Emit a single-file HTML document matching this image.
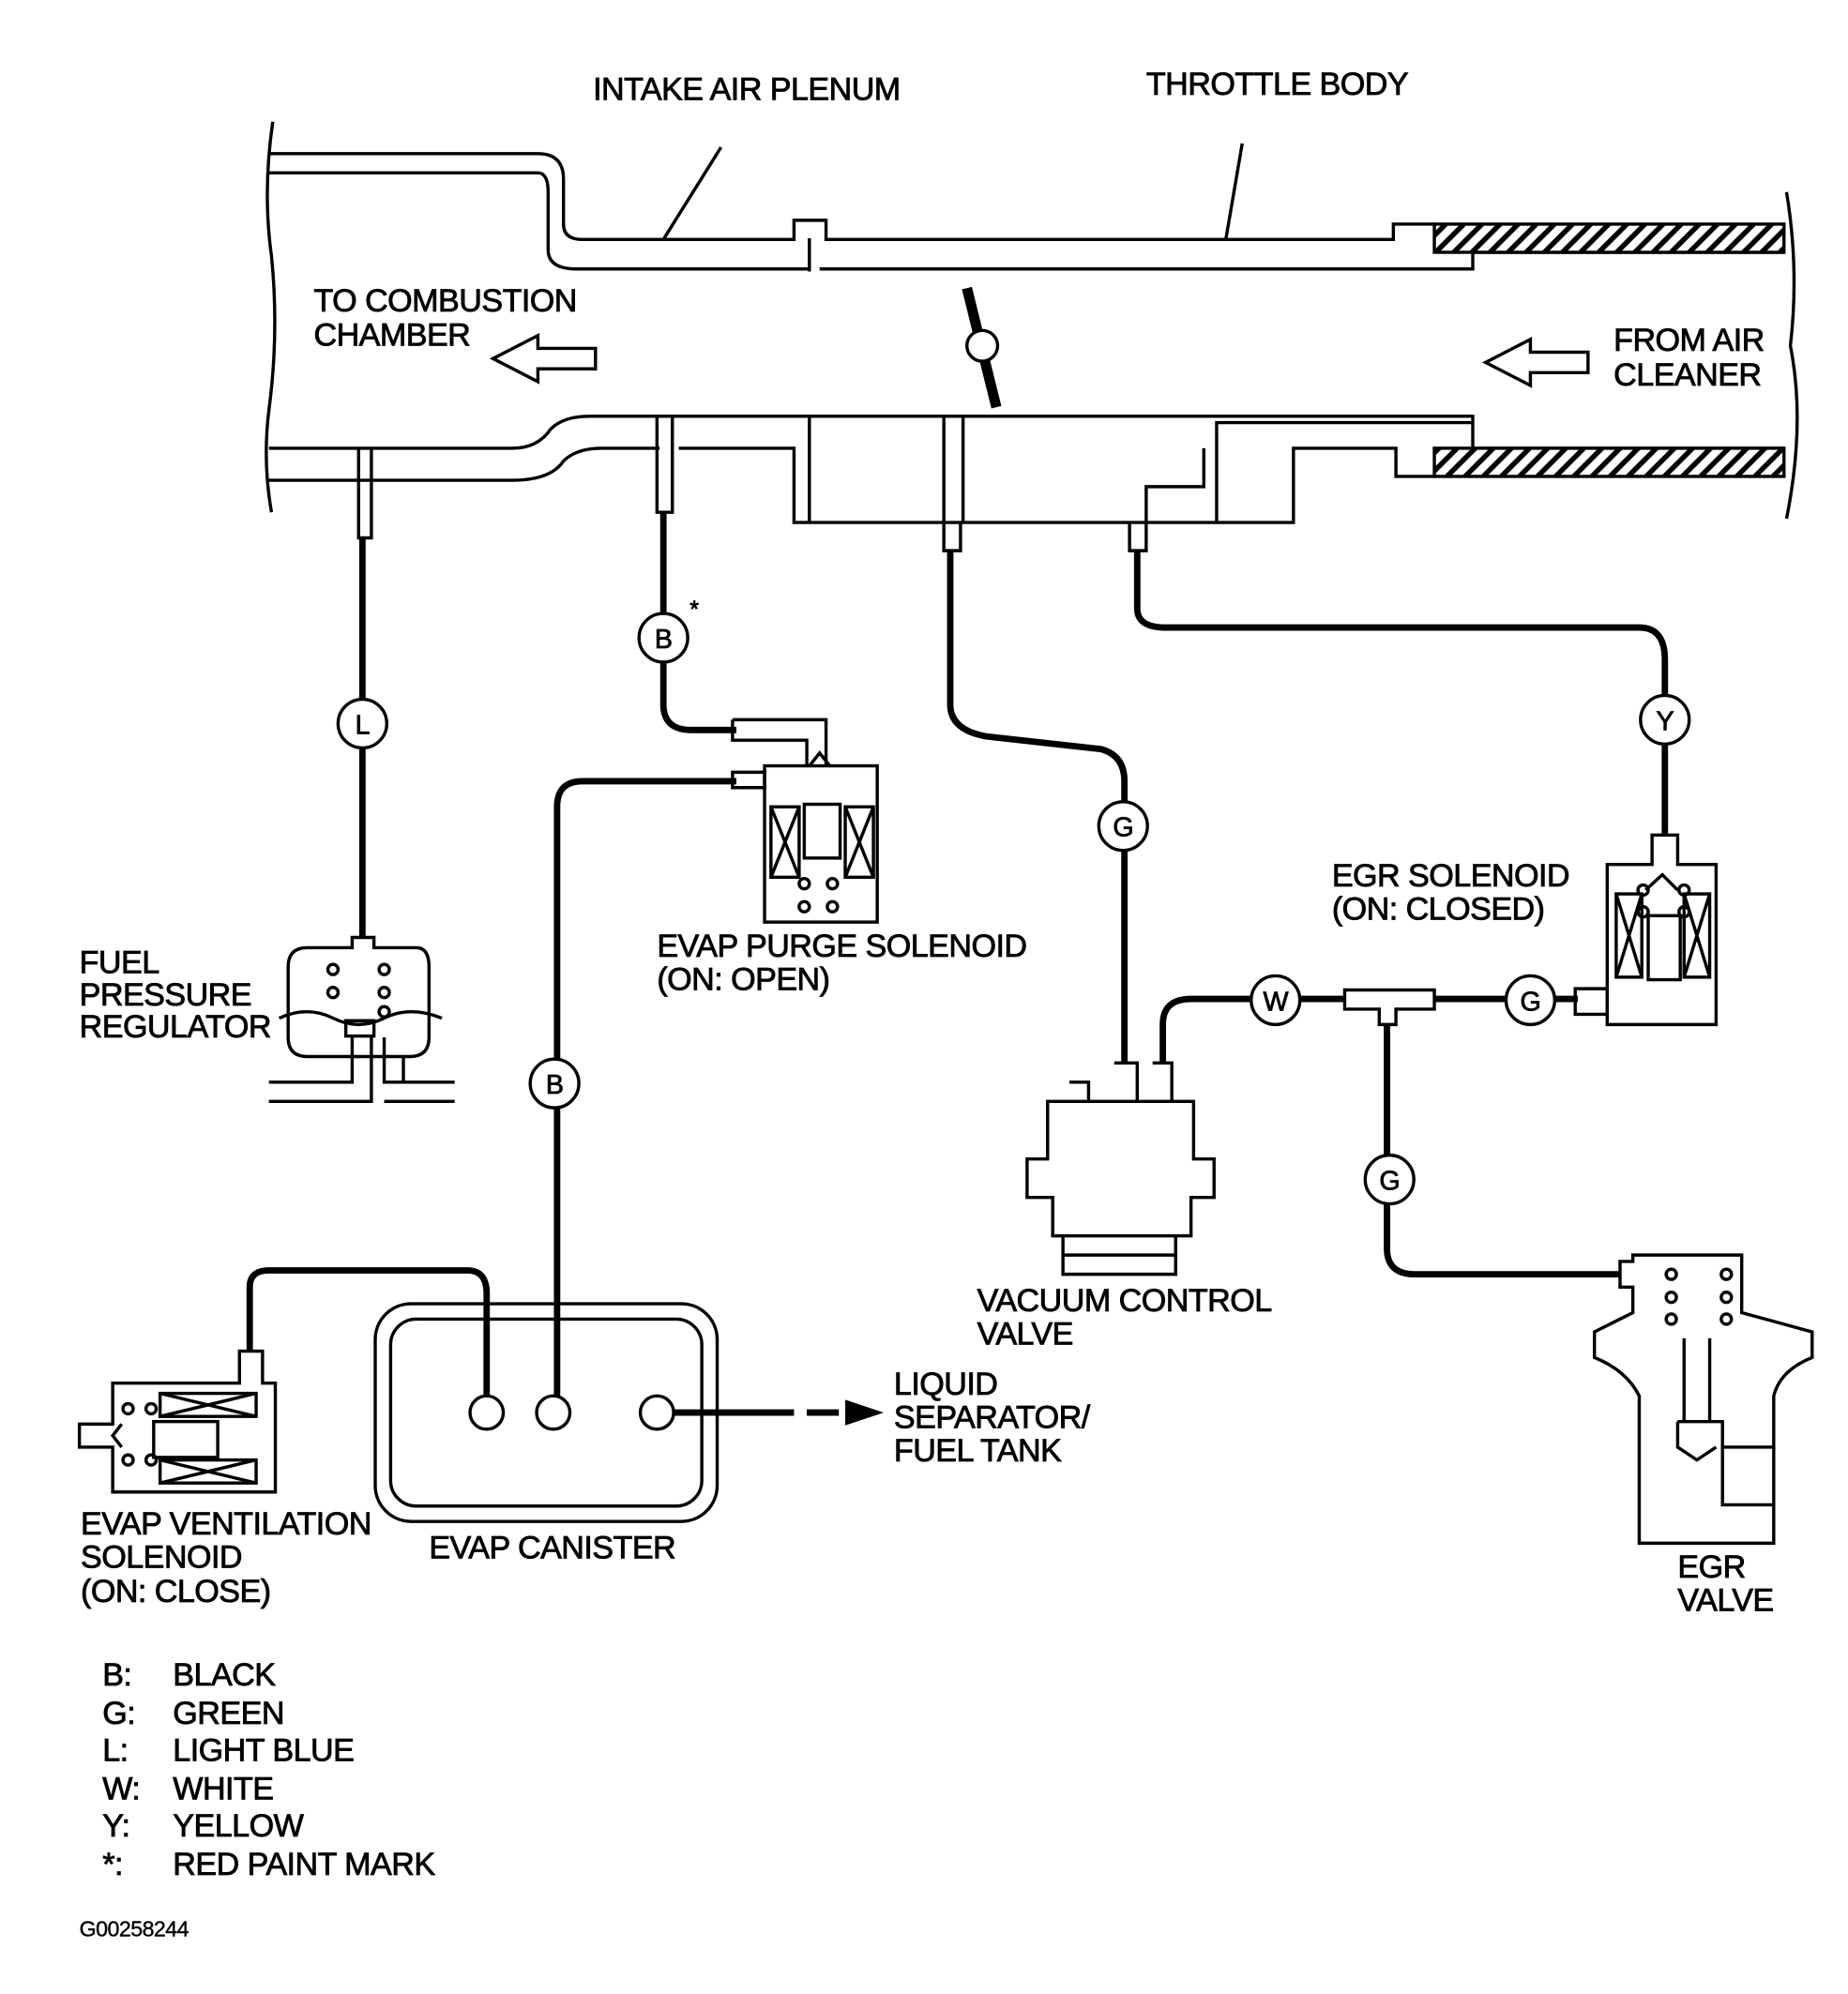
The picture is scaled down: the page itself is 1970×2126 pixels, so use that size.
<!DOCTYPE html>
<html><head><meta charset="utf-8"><style>
html,body{margin:0;padding:0;background:#fff}
svg{display:block}
text{font-family:"Liberation Sans",Arial,sans-serif;font-size:25px;fill:#000;stroke:#000;stroke-width:0.6;letter-spacing:-0.4px}
.c text{font-size:21px}
</style></head><body>
<svg width="1970" height="2126" viewBox="0 0 1443 1557" preserveAspectRatio="none">
<defs>
<pattern id="h" width="10" height="10" patternUnits="userSpaceOnUse" patternTransform="rotate(45)">
<rect width="10" height="10" fill="#fff"/><rect width="4" height="10" fill="#000"/></pattern>
</defs>
<g fill="none" stroke="#000" stroke-width="2.5">
<path d="M213,95 Q205,150 212,200 Q218,260 210,320 Q205,360 212,400"/>
<path d="M1395,150 Q1405,210 1398,270 Q1410,330 1395,405"/>
<path d="M210,120 H420 Q440,120 440,140 V175 Q440,187 455,187 H620 V172 H645 V187 H1088 V175 H1120"/>
<path d="M210,135 H420 Q428,135 428,150 V195 Q428,210 450,210 H632 M640,210 H1150 V197 H1393"/>
<line x1="632" y1="186" x2="632" y2="212"/>
<rect x="1120" y="175" width="273" height="22" fill="url(#h)"/>
<path d="M210,350 H400 Q420,350 430,335 Q440,325 460,325 H1150 V350 H1393"/>
<path d="M210,375 H400 Q430,375 440,360 Q450,350 470,350 H515 M530,350 H620 V408 H1010 V350 H1090 V372 H1120"/>
<rect x="1120" y="350" width="273" height="22" fill="url(#h)"/>
<path d="M632,325 V408 M752,325 V408 M950,408 V330 H1150"/>
<path d="M280,350 V420 H290 V350"/>
<path d="M513,325 V400 H525 V325"/>
<path d="M737,325 V430 H750 V408"/>
<path d="M882,408 V430 H895 V380 H940 V350"/>
<line x1="518" y1="187" x2="563" y2="115"/>
<line x1="957" y1="188" x2="970" y2="112"/>
<path d="M385,280 L420,262 V272 H465 V288 H420 V298 Z"/>
<path d="M1160,283 L1195,265 V275 H1240 V291 H1195 V301 Z"/>
<path d="M755,225 L778,318" stroke-width="8"/>
<circle cx="767" cy="270" r="12" fill="#fff"/>
</g>
<g fill="none" stroke="#000" stroke-width="5">
<path d="M283,420 V732"/>
<path d="M518,400 V550 Q518,570 540,570 H575"/>
<path d="M575,610 H455 Q435,610 435,630 V1090"/>
<path d="M742,430 V550 Q742,570 770,575 L860,585 Q878,590 878,610 V830"/>
<path d="M888,430 V475 Q888,490 910,490 H1280 Q1300,490 1300,515 V652"/>
<path d="M908,830 V800 Q908,780 930,780 H1050"/>
<path d="M1120,780 H1232"/>
<path d="M1083,790 V975 Q1083,995 1105,995 H1265"/>
<path d="M195,1055 V1005 Q195,992 210,992 H365 Q380,992 380,1010 V1090"/>
<path d="M525,1103 H620"/>
</g>
<path d="M630,1103 H655" stroke="#000" stroke-width="5"/>
<path d="M660,1093 L690,1103 L660,1113 Z"/>
<g stroke="#000" stroke-width="2.5" fill="#fff">
<circle cx="283" cy="565" r="19"/><circle cx="518" cy="498" r="19"/><circle cx="433" cy="846" r="19"/>
<circle cx="877" cy="645" r="19"/><circle cx="1300" cy="562" r="19"/><circle cx="996" cy="781" r="19"/>
<circle cx="1195" cy="781" r="19"/><circle cx="1085" cy="921" r="19"/>
</g>
<g class="c" text-anchor="middle">
<text x="283" y="573">L</text><text x="518" y="506">B</text><text x="433" y="854">B</text>
<text x="877" y="653">G</text><text x="1300" y="570">Y</text><text x="996" y="789">W</text>
<text x="1195" y="789">G</text><text x="1085" y="929">G</text>
<text x="542" y="482" style="font-size:18px">*</text>
</g>
<g fill="none" stroke="#000" stroke-width="2.5">
<path d="M1050,773 H1120 V788 H1090 V800 H1077 V788 H1050 Z" fill="#fff"/>
<path d="M572,562 H645 V598 M572,562 V578 H630 V598"/>
<rect x="597" y="598" width="88" height="122"/>
<path d="M572,603 H597 V615 H572 Z"/>
<rect x="602" y="630" width="22" height="55"/><path d="M602,630 L624,685 M624,630 L602,685"/>
<rect x="660" y="630" width="22" height="55"/><path d="M660,630 L682,685 M682,630 L660,685"/>
<rect x="628" y="628" width="28" height="42"/>
<circle cx="628" cy="690" r="4"/><circle cx="650" cy="690" r="4"/><circle cx="628" cy="708" r="4"/><circle cx="650" cy="708" r="4"/>
<path d="M632,598 L640,588 L648,598"/>
<path d="M275,732 H292 V740 H325 Q335,740 335,755 V810 Q335,825 320,825 H240 Q225,825 225,810 V755 Q225,740 240,740 H275 Z"/>
<path d="M218,795 Q240,785 260,795 Q280,805 300,795 Q320,785 345,795"/>
<circle cx="260" cy="757" r="4"/><circle cx="260" cy="775" r="4"/><circle cx="300" cy="757" r="4"/><circle cx="300" cy="775" r="4"/><circle cx="300" cy="790" r="4"/>
<rect x="270" y="797" width="22" height="12"/>
<path d="M210,845 H275 V810 M210,860 H290 V810 M300,810 V845 H355 M315,825 V845 M300,860 H355"/>
<path d="M1290,652 H1310 V675 H1340 V800 H1255 V675 H1290 Z"/>
<path d="M1230,772 H1255 V792 H1230 Z"/>
<rect x="1262" y="698" width="20" height="65"/><path d="M1262,698 L1282,763 M1282,698 L1262,763"/>
<rect x="1315" y="698" width="20" height="65"/><path d="M1315,698 L1335,763 M1335,698 L1315,763"/>
<rect x="1287" y="715" width="25" height="50"/>
<path d="M1285,695 L1298,683 L1310,695"/>
<circle cx="1283" cy="695" r="4"/><circle cx="1315" cy="695" r="4"/><circle cx="1283" cy="712" r="4"/><circle cx="1315" cy="712" r="4"/>
<path d="M870,830 H888 V860 M900,830 H915 V860"/>
<path d="M835,845 H850 V860"/>
<path d="M818,860 H932 V905 H948 V935 H930 V965 H822 V935 H802 V905 H818 Z"/>
<path d="M830,965 V980 H918 V965 M830,980 V995 H918 V980"/>
<path d="M1265,985 H1275 V980 H1360 V1025 L1415,1040 V1060 Q1390,1070 1385,1090 V1205 H1280 V1090 Q1270,1070 1245,1060 V1040 L1275,1025 V1005 H1265 Z"/>
<circle cx="1305" cy="995" r="4"/><circle cx="1305" cy="1013" r="4"/><circle cx="1305" cy="1030" r="4"/>
<circle cx="1348" cy="995" r="4"/><circle cx="1348" cy="1013" r="4"/><circle cx="1348" cy="1030" r="4"/>
<path d="M1315,1045 V1110 M1335,1045 V1110 M1310,1110 H1345 V1175 H1385 M1310,1110 V1130 L1325,1140 L1340,1130 M1345,1130 H1385"/>
<rect x="293" y="1018" width="267" height="170" rx="28"/>
<rect x="305" y="1030" width="243" height="146" rx="20"/>
<circle cx="380" cy="1103" r="13" fill="#fff"/><circle cx="432" cy="1103" r="13" fill="#fff"/><circle cx="513" cy="1103" r="13" fill="#fff"/>
<path d="M187,1055 H205 V1080 H215 V1165 H88 V1130 H62 V1112 H88 V1080 H187 Z"/>
<rect x="125" y="1088" width="75" height="18"/><path d="M125,1088 L200,1106 M200,1088 L125,1106"/>
<rect x="125" y="1140" width="75" height="18"/><path d="M125,1140 L200,1158 M200,1140 L125,1158"/>
<rect x="120" y="1110" width="50" height="28"/>
<circle cx="100" cy="1100" r="4"/><circle cx="118" cy="1100" r="4"/><circle cx="100" cy="1140" r="4"/><circle cx="118" cy="1140" r="4"/>
<path d="M95,1112 L88,1121 L95,1130"/>
</g>
<text x="463" y="78">INTAKE AIR PLENUM</text>
<text x="895" y="74">THROTTLE BODY</text>
<text x="245" y="243">TO COMBUSTION</text>
<text x="245" y="270">CHAMBER</text>
<text x="1260" y="274">FROM AIR</text>
<text x="1260" y="301">CLEANER</text>
<text x="62" y="760">FUEL</text>
<text x="62" y="785">PRESSURE</text>
<text x="62" y="810">REGULATOR</text>
<text x="513" y="747">EVAP PURGE SOLENOID</text>
<text x="513" y="773">(ON: OPEN)</text>
<text x="1040" y="692">EGR SOLENOID</text>
<text x="1040" y="718">(ON: CLOSED)</text>
<text x="763" y="1024">VACUUM CONTROL</text>
<text x="763" y="1050">VALVE</text>
<text x="698" y="1089">LIQUID</text>
<text x="698" y="1115">SEPARATOR/</text>
<text x="698" y="1141">FUEL TANK</text>
<text x="63" y="1198">EVAP VENTILATION</text>
<text x="63" y="1224">SOLENOID</text>
<text x="63" y="1251">(ON: CLOSE)</text>
<text x="335" y="1217">EVAP CANISTER</text>
<text x="1310" y="1232">EGR</text>
<text x="1310" y="1258">VALVE</text>
<g style="font-size:27px">
<text x="80" y="1316">B:</text><text x="135" y="1316">BLACK</text>
<text x="80" y="1346">G:</text><text x="135" y="1346">GREEN</text>
<text x="80" y="1375">L:</text><text x="135" y="1375">LIGHT BLUE</text>
<text x="80" y="1405">W:</text><text x="135" y="1405">WHITE</text>
<text x="80" y="1434">Y:</text><text x="135" y="1434">YELLOW</text>
<text x="80" y="1464">*:</text><text x="135" y="1464">RED PAINT MARK</text>
</g>
<text x="62" y="1512" style="font-size:17px;stroke-width:0.3">G00258244</text>
</svg>
</body></html>
